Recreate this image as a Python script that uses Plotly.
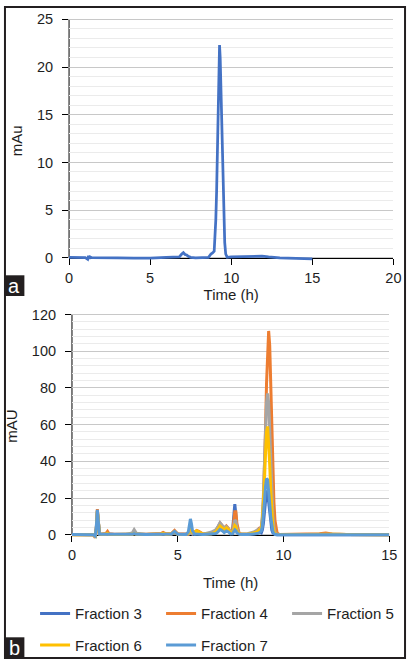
import plotly.graph_objects as go

# ---------------- Panel a data ----------------
time_a = [0, 0.5, 1.0, 1.15, 1.2, 1.25, 1.3, 1.4, 2.0, 3.0, 4.0, 5.0, 6.0, 6.8, 6.95,
          7.05, 7.15, 7.25, 7.35, 7.5, 7.8, 8.2, 8.6, 8.75, 8.85, 8.95, 9.0, 9.05,
          9.1, 9.15, 9.2, 9.25, 9.28, 9.32, 9.36, 9.4, 9.45, 9.5, 9.55, 9.6, 9.66,
          9.75, 10.0, 11.0, 11.5, 11.9, 12.3, 13.0, 14.0, 15.0]
mau_a = [0.05, 0.05, 0.03, -0.15, 0.2, -0.1, 0.1, 0.02, 0.03, 0.0, -0.02, -0.03, 0.05,
         0.1, 0.4, 0.55, 0.35, 0.3, 0.15, 0.05, 0.0, 0.02, 0.05, 0.4, 0.5, 0.7, 2.0, 4.0,
         7.0, 11.0, 15.5, 20.0, 22.3, 21.0, 18.0, 14.0, 9.5, 6.0, 3.5, 1.6, 0.4,
         0.05, 0.1, 0.12, 0.14, 0.18, 0.1, 0.0, -0.05, -0.1]

# ---------------- Panel b data ----------------
time_b = [0, 0.5, 1.0, 1.1, 1.15, 1.2, 1.25, 1.3, 1.4, 1.6, 1.68, 1.75,
          2.0, 2.5, 2.85, 2.94, 3.05, 3.5, 4.0, 4.2, 4.31, 4.45, 4.7, 4.85, 5.0,
          5.3, 5.4, 5.5, 5.55, 5.6, 5.65, 5.7, 5.8, 5.9, 6.0, 6.2,
          6.6, 6.8, 6.9, 7.0, 7.1, 7.2, 7.3, 7.4, 7.5, 7.55, 7.6, 7.65, 7.7, 7.75, 7.8, 7.9, 8.0,
          8.3, 8.6, 8.75, 8.85, 8.95, 9.0, 9.05, 9.1, 9.15, 9.2, 9.25, 9.3, 9.35, 9.4, 9.45,
          9.5, 9.55, 9.6, 9.7, 9.8,
          10.0, 11.0, 11.7, 12.0, 12.3, 13.0, 14.0, 15.0]

fraction_3 = [0.1, 0.1, 0.0, -1.0, 4, 13, 6, 0.5, 0.2, 0.3, 0.6, 0.3,
              0.1, 0.1, 0.3, 1.0, 0.3, 0.1, 0.1, 0.2, 0.6, 0.2, 0.3, 1.0, 0.3,
              0.1, 0.1, 0.3, 0.5, 0.8, 0.6, 0.3, 0.4, 0.8, 0.5, 0.2,
              0.5, 1.5, 3, 4.5, 3.8, 2.8, 3.8, 2.8, 1.0, 0.8, 3.5, 11, 16.6, 11, 3.5, 0.6, 0.2,
              0.1, 0.3, 0.8, 1.5, 1.0, 2.5, 6, 12, 19, 24, 23, 18, 11, 5.5, 2.5,
              1.0, 0.3, 0.1, 0.0, 0.0,
              0.1, 0.1, 0.2, 0.4, 0.2, 0.1, 0.0, 0.0]
fraction_4 = [0.0, 0.1, 0.0, -1.5, 3, 14, 6, 0.5, 0.3, 0.6, 1.8, 0.5,
              0.2, 0.1, 0.4, 1.2, 0.4, 0.2, 0.3, 0.6, 1.2, 0.5, 0.6, 2.3, 0.5,
              0.2, 0.2, 0.3, 0.8, 1.2, 1.0, 0.6, 1.5, 2.3, 1.8, 0.4,
              0.8, 2.0, 4.0, 6.3, 5.0, 3.5, 4.8, 3.5, 1.5, 1.2, 2.5, 8, 12.5, 12.5, 6, 1.0, 0.3,
              0.3, 1.0, 2.0, 3.5, 4.0, 8, 17.5, 34, 57, 82.6, 103, 111, 103, 82.6, 57,
              34, 17.5, 7.7, 1.0, 0.1,
              0.1, 0.2, 0.5, 0.9, 0.4, 0.1, 0.0, 0.0]
fraction_5 = [0.1, 0.1, 0.0, -1.0, 3, 13, 5, 0.5, 0.2, 0.3, 0.5, 0.3,
              0.1, 0.2, 1.0, 2.8, 0.8, 0.2, 0.2, 0.3, 0.5, 0.3, 0.4, 1.2, 0.3,
              0.2, 0.2, 0.3, 0.5, 1.0, 0.8, 0.4, 0.8, 1.2, 1.0, 0.3,
              1.5, 2.7, 4.5, 6.5, 5.0, 3.8, 4.5, 3.0, 1.5, 1.0, 1.5, 5, 8, 7.5, 3.5, 0.7, 0.3,
              0.5, 1.5, 2.5, 3.0, 4.0, 10, 21, 38, 57, 72, 77, 72, 57, 38, 21,
              10, 4, 1.3, 0.2, 0.1,
              0.1, 0.1, 0.3, 0.6, 0.3, 0.1, 0.0, 0.0]
fraction_6 = [0.0, 0.1, 0.0, -0.8, 3, 13, 5, 0.4, 0.2, 0.3, 0.8, 0.3,
              0.1, 0.1, 0.2, 0.6, 0.2, 0.1, 0.2, 0.4, 0.8, 0.3, 0.5, 1.6, 0.3,
              0.2, 0.1, 0.8, 2.2, 3.0, 2.5, 1.2, 1.5, 2.2, 1.5, 0.3,
              0.5, 1.5, 3.0, 4.8, 3.8, 2.5, 3.8, 2.8, 1.2, 0.8, 1.0, 3.5, 5.0, 4.5, 2.0, 0.5, 0.2,
              0.2, 0.8, 1.5, 2.5, 3.5, 7, 16, 29, 44, 56, 59, 51, 38, 24, 12,
              5, 1.8, 0.6, 0.1, 0.0,
              0.1, 0.1, 0.3, 0.5, 0.2, 0.1, 0.0, 0.0]
fraction_7 = [0.1, 0.1, 0.0, -0.8, 4, 13.5, 5, 0.3, 0.2, 0.2, 0.5, 0.2,
              0.1, 0.1, 0.2, 0.6, 0.2, 0.1, 0.1, 0.2, 0.5, 0.2, 0.4, 1.8, 0.3,
              0.1, 0.1, 1.5, 5.5, 8.6, 6.0, 2.0, 0.3, 0.5, 0.3, 0.1,
              0.2, 0.6, 1.5, 2.9, 2.2, 1.2, 2.0, 1.5, 0.4, 0.3, 0.5, 1.8, 2.7, 2.2, 1.0, 0.3, 0.1,
              0.1, 0.3, 0.6, 1.0, 2.0, 4.5, 10, 18, 26, 30.5, 30, 25, 17, 9.5, 4.5,
              1.8, 0.6, 0.2, 0.0, 0.0,
              0.0, 0.1, 0.1, 0.2, 0.1, 0.0, 0.0, 0.0]

series_names = ["Fraction 3", "Fraction 4", "Fraction 5", "Fraction 6", "Fraction 7"]
series_values = [fraction_3, fraction_4, fraction_5, fraction_6, fraction_7]
series_colors = ["#4472C4", "#ED7D31", "#A5A5A5", "#FFC000", "#5B9BD5"]
series_legend = ["legend", "legend", "legend", "legend2", "legend2"]

for v in series_values:
    assert len(v) == len(time_b), len(v)
assert len(time_a) == len(mau_a)

W, H = 414, 662
FONT = "Liberation Sans, Arial, sans-serif"
TXT = "#1e1e1e"
GRID = "#c8c8c8"
MINOR = "#ebebeb"


def fx(p):
    return p / W


def fy(p):
    return 1 - p / H


fig = go.Figure()
fig.add_trace(go.Scatter(x=time_a, y=mau_a, mode="lines", showlegend=False,
                         line=dict(color="#4472C4", width=2.75),
                         xaxis="x", yaxis="y"))
for name, vals, col, leg in zip(series_names, series_values, series_colors, series_legend):
    fig.add_trace(go.Scatter(x=time_b, y=vals, mode="lines", name=name,
                             line=dict(color=col, width=3),
                             xaxis="x2", yaxis="y2", legend=leg))

# panel geometry (pixels): value-0 line, value-max line, small padding beyond
a_max_px, a_zero, a_min, a_max = 13.5, 255.3, -0.6, 25.15
a_unit = (a_zero - a_max_px) / 25
a_bottom = a_zero - a_min * a_unit
a_top = a_max_px - (a_max - 25) * a_unit
b_max_px, b_zero, b_min, b_max = 312.7, 536.0, -2.5, 120.8
b_unit = (b_zero - b_max_px) / 120
b_bottom = b_zero - b_min * b_unit
b_top = b_max_px - (b_max - 120) * b_unit

tickfont = dict(family=FONT, size=14.5, color=TXT)
titlefont = dict(family=FONT, size=15, color=TXT)

common_x = dict(showgrid=False, zeroline=False, showline=True, linecolor="#000",
                linewidth=1, ticks="outside", ticklen=6, tickcolor="#000",
                tickfont=tickfont, layer="below traces", anchor="free",
                ticklabelstandoff=1)
common_y = dict(showgrid=True, gridcolor=GRID, gridwidth=1, zeroline=False,
                showline=False, ticks="outside", ticklen=6, tickcolor="#000",
                tickfont=tickfont, tick0=0, ticklabelstandoff=6)

fig.update_layout(
    width=W, height=H, autosize=False,
    margin=dict(l=0, r=0, t=0, b=0),
    paper_bgcolor="white", plot_bgcolor="white",
    font=dict(family=FONT, color=TXT),
    xaxis=dict(common_x, domain=[fx(67), fx(401)], range=[0, 20], dtick=5,
               position=fy(a_zero),
               title=dict(text="Time (h)", font=titlefont, standoff=4)),
    yaxis=dict(common_y, domain=[fy(a_bottom), fy(a_top)], range=[a_min, a_max], dtick=5,
               anchor="x",
               minor=dict(dtick=1, tick0=0, showgrid=True, gridcolor=MINOR, ticks=""),
               title=dict(text="mAu", font=titlefont, standoff=10)),
    xaxis2=dict(common_x, domain=[fx(70), fx(396.7)], range=[0, 15], dtick=5,
                position=fy(b_zero),
                title=dict(text="Time (h)", font=titlefont, standoff=15)),
    yaxis2=dict(common_y, domain=[fy(b_bottom), fy(b_top)], range=[b_min, b_max], dtick=20,
                anchor="x2",
                minor=dict(dtick=4, tick0=0, showgrid=True, gridcolor=MINOR, ticks=""),
                title=dict(text="mAU", font=titlefont, standoff=10)),
    legend=dict(orientation="h", x=fx(32), y=fy(616), xanchor="left", yanchor="middle",
                font=dict(family=FONT, size=15, color=TXT), bgcolor="rgba(0,0,0,0)",
                entrywidth=81, entrywidthmode="pixels", itemwidth=30),
    legend2=dict(orientation="h", x=fx(32), y=fy(648), xanchor="left", yanchor="middle",
                 font=dict(family=FONT, size=15, color=TXT), bgcolor="rgba(0,0,0,0)",
                 entrywidth=81, entrywidthmode="pixels", itemwidth=30),
)

# y axis lines from 0 to top value
fig.add_shape(type="line", xref="x domain", yref="y", x0=0, x1=0, y0=0, y1=25,
              line=dict(color="#000", width=1), layer="below")
fig.add_shape(type="line", xref="x2 domain", yref="y2", x0=0, x1=0, y0=0, y1=120,
              line=dict(color="#000", width=1), layer="below")

# panel labels
for lab, y0, y1 in [("a", 273, 294), ("b", 640, 662)]:
    fig.add_shape(type="rect", xref="paper", yref="paper", x0=0, x1=fx(21),
                  y0=fy(y1), y1=fy(y0), fillcolor="#231f20", line=dict(width=0),
                  layer="above")
    fig.add_annotation(text=lab, xref="paper", yref="paper", x=fx(10.5),
                       y=fy((y0 + y1) / 2), xanchor="center", yanchor="middle",
                       showarrow=False, font=dict(family=FONT, size=20, color="white"))

# outer border
fig.add_shape(type="rect", xref="paper", yref="paper", x0=fx(1), x1=fx(413),
              y0=fy(661), y1=fy(1), line=dict(color="#231f20", width=2),
              fillcolor="rgba(0,0,0,0)", layer="above")

fig.write_html("out.html")
